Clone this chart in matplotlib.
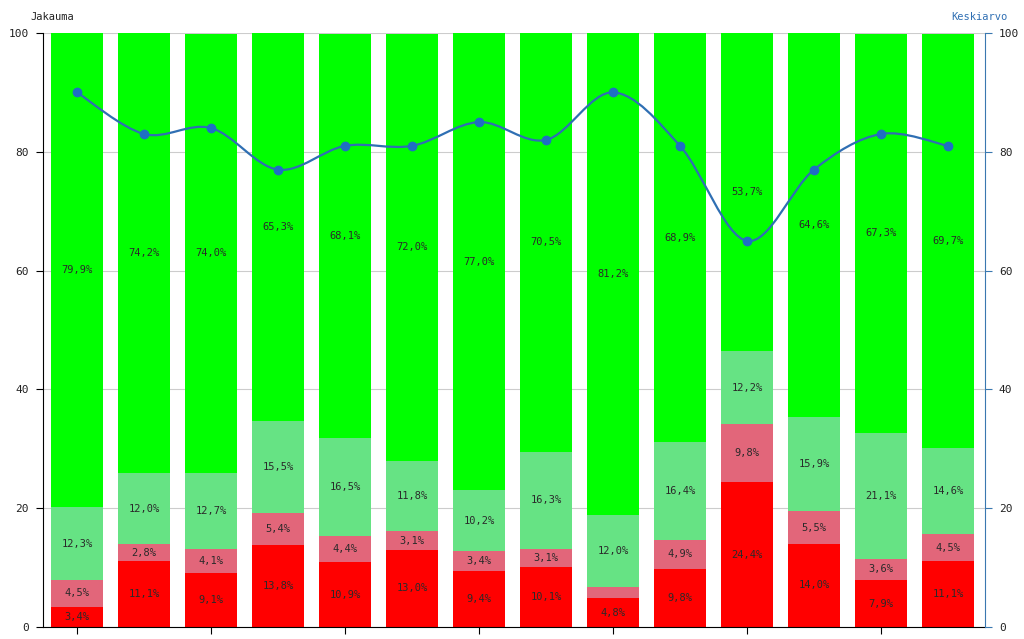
import matplotlib
matplotlib.use("Agg")
import matplotlib.pyplot as plt
from matplotlib.path import Path
from matplotlib.patches import PathPatch
import numpy as np

red = [3.4, 11.1, 9.1, 13.8, 10.9, 13.0, 9.4, 10.1, 4.8, 9.8, 24.4, 14.0, 7.9, 11.1]
pink = [4.5, 2.8, 4.1, 5.4, 4.4, 3.1, 3.4, 3.1, 2.0, 4.9, 9.8, 5.5, 3.6, 4.5]
lightgreen = [12.3, 12.0, 12.7, 15.5, 16.5, 11.8, 10.2, 16.3, 12.0, 16.4, 12.2, 15.9, 21.1, 14.6]
green = [79.9, 74.2, 74.0, 65.3, 68.1, 72.0, 77.0, 70.5, 81.2, 68.9, 53.7, 64.6, 67.3, 69.7]
average = [90, 83, 84, 77, 81, 81, 85, 82, 90, 81, 65, 77, 83, 81]
yticks = [0, 20, 40, 60, 80, 100]

series = [red, pink, lightgreen, green]
colors = ["#ff0000", "#e2667a", "#66e384", "#00ff00"]

mono = "DejaVu Sans Mono"

fig = plt.figure(figsize=(10.24, 6.39), dpi=100)
ax = fig.add_axes([43/1024, 12/639, 942/1024, 594/639])
ax2 = ax.twinx()

n = len(red)
x = np.arange(n)
bottom = np.zeros(n)
for vals, c in zip(series, colors):
    vals = np.array(vals)
    ax.bar(x, vals, width=0.79, bottom=bottom, color=c, zorder=2, linewidth=0)
    for xi, b, v in zip(x, bottom, vals):
        if v >= 2.5:
            yc = b + v / 2
            if yc < 100:
                ax.text(xi, yc, f"{v:.1f}%".replace(".", ","), ha="center", va="center",
                        fontsize=7.5, family=mono, color="#2a2a2a", zorder=5)
    bottom = bottom + vals

ax.set_xlim(-0.507, n - 1 + 0.552)
ax.set_ylim(0, 100)
ax2.set_ylim(0, 100)
ax.set_yticks(yticks)
ax2.set_yticks(yticks)
ax.set_xticks(x[::2])
ax.set_xticklabels([])
ax.yaxis.grid(True, color="#cccccc", linewidth=0.8, zorder=0)
ax.set_axisbelow(True)

for a in (ax, ax2):
    a.spines["top"].set_visible(False)
ax.spines["right"].set_visible(False)
ax2.spines["left"].set_visible(False)
ax2.spines["bottom"].set_visible(False)
ax2.spines["right"].set_color("#3a78b0")
ax.spines["left"].set_color("#000000")
ax.spines["bottom"].set_color("#000000")
ax.tick_params(axis="y", length=5, labelsize=8, colors="#000000", labelcolor="#222222", pad=5)
ax.tick_params(axis="x", length=5, colors="#000000")
ax2.tick_params(axis="y", length=5, labelsize=8, colors="#3a78b0", labelcolor="#222222", pad=5)
for lab in ax.get_yticklabels() + ax2.get_yticklabels():
    lab.set_family(mono)

# smooth line through averages (Catmull-Rom as cubic Bezier)
pts = np.column_stack([x, average]).astype(float)
verts = [tuple(pts[0])]
codes = [Path.MOVETO]
for i in range(n - 1):
    p0 = pts[i - 1] if i > 0 else pts[i]
    p1 = pts[i]
    p2 = pts[i + 1]
    p3 = pts[i + 2] if i + 2 < n else pts[i + 1]
    c1 = p1 + (p2 - p0) / 6
    c2 = p2 - (p3 - p1) / 6
    verts += [tuple(c1), tuple(c2), tuple(p2)]
    codes += [Path.CURVE4] * 3
ax2.add_patch(PathPatch(Path(verts, codes), facecolor="none", edgecolor="#2f6fb3", linewidth=1.6, zorder=6))
ax2.plot(x, average, "o", color="#1f6fc3", markersize=6, zorder=7)

fig.text(30/1024, 1 - 17/639, "Jakauma", fontsize=7.5, family=mono, color="#222222", va="center", ha="left")
fig.text(1008/1024, 1 - 17/639, "Keskiarvo", fontsize=7.5, family=mono, color="#2f6fb3", va="center", ha="right")

fig.savefig("out.png", dpi=100)
